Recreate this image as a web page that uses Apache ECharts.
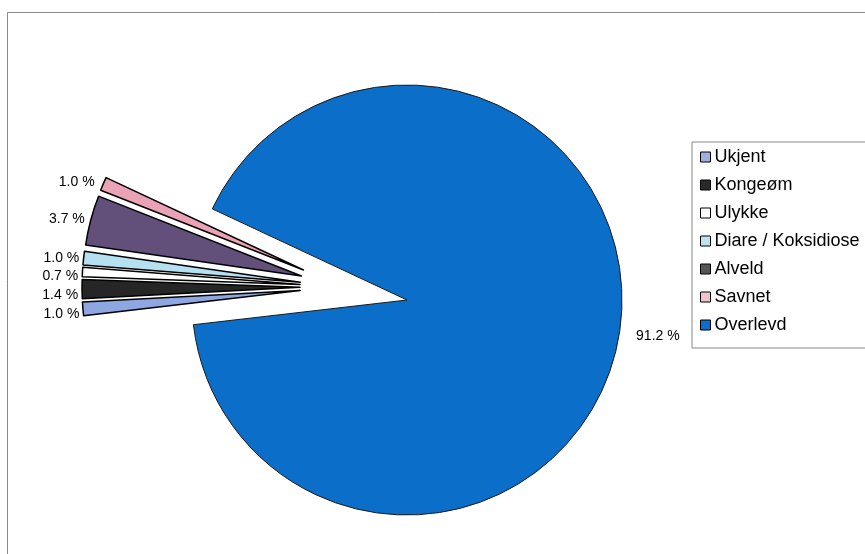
<!DOCTYPE html>
<html>
<head>
<meta charset="utf-8">
<script src="https://cdn.jsdelivr.net/npm/echarts@6/dist/echarts.min.js"></script>
<style>
  html, body { margin: 0; padding: 0; background: #fff; }
  #chart { width: 865px; height: 554px; }
</style>
</head>
<body>
<div id="chart"></div>
<script>
var categories = ['Ukjent', 'Kongeøm', 'Ulykke', 'Diare / Koksidiose', 'Alveld', 'Savnet', 'Overlevd'];
var shares = [1.0, 1.4, 0.7, 1.0, 3.7, 1.0, 91.2];
var sliceColors = ['#8ea6e2', '#262626', '#ffffff', '#b4e0f2', '#62507a', '#eaa2b6', '#0b6ec8'];
var legendColors = ['#9fb0e0', '#2a2a2a', '#ffffff', '#bfe2ee', '#555555', '#f0c4cf', '#0b6ec8'];

var chart = echarts.init(document.getElementById('chart'));

var fmt = function (p) {
  return p.value.toFixed(1) + ' %';
};

var smallCount = categories.length - 1;
var smallSum = 0;
for (var i = 0; i < smallCount; i++) smallSum += shares[i];

// exploded small slices, drawn from their own shifted centre
var smallData = [];
for (var i = 0; i < smallCount; i++) {
  smallData.push({
    name: categories[i],
    value: shares[i],
    selected: true,
    itemStyle: { color: sliceColors[i] }
  });
}
smallData.push({
  name: '_blue',
  value: shares[smallCount],
  selected: false,
  itemStyle: { color: 'transparent', borderWidth: 0 },
  label: { show: false },
  labelLine: { show: false }
});

// big slice with a hole where the small ones were
var bigData = [
  {
    name: '_gap',
    value: smallSum,
    itemStyle: { color: 'transparent', borderWidth: 0 },
    label: { show: false },
    labelLine: { show: false }
  },
  {
    name: categories[smallCount],
    value: shares[smallCount],
    itemStyle: { color: sliceColors[smallCount] }
  }
];

var option = {
  backgroundColor: '#fff',
  animation: false,
  textStyle: { fontFamily: 'Liberation Sans, Arial, sans-serif' },
  graphic: [{
    type: 'rect',
    left: 5,
    top: 10,
    shape: { width: 900, height: 600 },
    style: { fill: 'none', stroke: '#888', lineWidth: 1 },
    silent: true
  }],
  legend: {
    orient: 'vertical',
    left: 692,
    top: 142,
    padding: [6, 20, 14, 8],
    itemGap: 10,
    itemWidth: 10,
    itemHeight: 10,
    borderColor: '#888',
    borderWidth: 1,
    icon: 'rect',
    selectedMode: false,
    textStyle: { fontSize: 18, color: '#000', padding: [0, 0, 0, -1] },
    data: categories.map(function (c, i) {
      return {
        name: c,
        itemStyle: { color: legendColors[i], borderColor: '#000', borderWidth: 1 }
      };
    })
  },
  series: [
    {
      type: 'pie',
      center: [407, 300],
      radius: 215,
      startAngle: 186.6,
      clockwise: true,
      silent: true,
      avoidLabelOverlap: false,
      itemStyle: { borderColor: '#1a1a1a', borderWidth: 1 },
      label: {
        show: true,
        position: 'outside',
        formatter: fmt,
        fontSize: 14,
        color: '#000'
      },
      labelLine: { show: false, length: 12, length2: 0 },
      emphasis: { disabled: true },
      data: bigData
    },
    {
      type: 'pie',
      center: [343, 287],
      radius: 218,
      startAngle: 186.6,
      clockwise: true,
      selectedMode: 'multiple',
      selectedOffset: 43,
      silent: true,
      avoidLabelOverlap: true,
      labelLayout: { hideOverlap: false },
      itemStyle: { borderColor: '#000', borderWidth: 1.5 },
      label: {
        show: true,
        position: 'outside',
        formatter: fmt,
        fontSize: 14,
        lineHeight: 13,
        color: '#000'
      },
      labelLine: { show: false, length: 4, length2: 0 },
      emphasis: { disabled: true },
      select: { itemStyle: { borderColor: '#000', borderWidth: 1.5 } },
      data: smallData
    }
  ]
};

chart.setOption(option);
</script>
</body>
</html>
